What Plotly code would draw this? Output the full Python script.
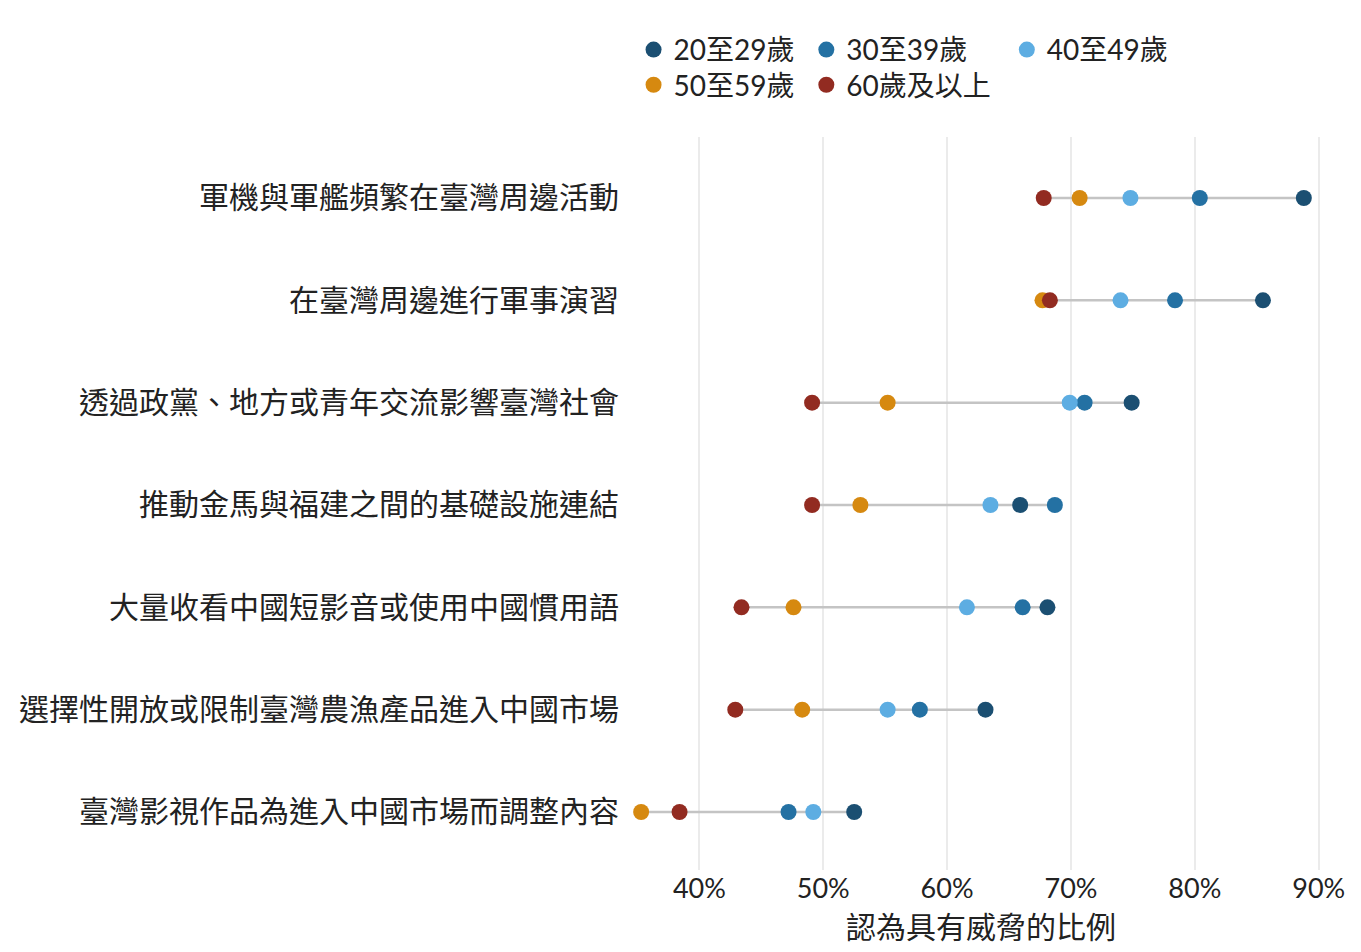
import plotly.graph_objects as go

# 各項中國行為，依年齡層認為具有威脅的比例 (%)
items = [
    "軍機與軍艦頻繁在臺灣周邊活動",
    "在臺灣周邊進行軍事演習",
    "透過政黨、地方或青年交流影響臺灣社會",
    "推動金馬與福建之間的基礎設施連結",
    "大量收看中國短影音或使用中國慣用語",
    "選擇性開放或限制臺灣農漁產品進入中國市場",
    "臺灣影視作品為進入中國市場而調整內容",
]

age_20_29 = [88.8, 85.5, 74.9, 65.9, 68.1, 63.1, 52.5]
age_30_39 = [80.4, 78.4, 71.1, 68.7, 66.1, 57.8, 47.2]
age_40_49 = [74.8, 74.0, 69.9, 63.5, 61.6, 55.2, 49.2]
age_50_59 = [70.7, 67.7, 55.2, 53.0, 47.6, 48.3, 35.3]
age_60_up = [67.8, 68.3, 49.1, 49.1, 43.4, 42.9, 38.4]

x_ticks = [40, 50, 60, 70, 80, 90]

# name, values, colour
groups = [
    ("20至29歲", age_20_29, "#1B4F72"),
    ("30至39歲", age_30_39, "#2471A3"),
    ("40至49歲", age_40_49, "#5DADE2"),
    ("50至59歲", age_50_59, "#D68910"),
    ("60歲及以上", age_60_up, "#922B21"),
]

# each legend entry gets its own little legend box (column x, row y)
legend_spots = [(0.005, 1.153), (0.248, 1.153), (0.530, 1.153),
                (0.005, 1.105), (0.248, 1.105)]

cjk = "Noto Sans CJK TC"
num_font = "Lato, Noto Sans CJK TC"
txt = "#222222"

fig = go.Figure()

# gray range line for each item
seg_x, seg_y = [], []
for i, item in enumerate(items):
    vals = [g[1][i] for g in groups]
    seg_x += [min(vals), max(vals), None]
    seg_y += [item, item, None]
fig.add_trace(go.Scatter(
    x=seg_x, y=seg_y, mode="lines",
    line=dict(color="#c4c4c4", width=2.5),
    showlegend=False, hoverinfo="skip",
))

legends = {}
for k, (name, vals, color) in enumerate(groups):
    lg = "legend" if k == 0 else f"legend{k + 1}"
    fig.add_trace(go.Scatter(
        x=vals, y=items, mode="markers", name=name, legend=lg,
        marker=dict(color=color, size=16),
    ))
    lx, ly = legend_spots[k]
    legends[lg] = dict(
        orientation="v", x=lx, y=ly, xanchor="left", yanchor="top",
        font=dict(family=num_font, size=28, color=txt),
        itemwidth=30, bgcolor="rgba(0,0,0,0)",
    )

fig.update_layout(
    width=1361, height=952,
    plot_bgcolor="white", paper_bgcolor="white",
    margin=dict(l=622, r=28, t=129, b=90),
    font=dict(family=num_font, size=26, color=txt),
    showlegend=True,
    **legends,
)

fig.update_xaxes(
    range=[34.4, 91.8],
    tickvals=x_ticks,
    ticktext=[f"{v}%" for v in x_ticks],
    showgrid=True, gridcolor="#ebebeb", gridwidth=1.5,
    zeroline=False, showline=False, ticks="",
    tickfont=dict(family=num_font, size=27, color=txt),
    automargin=False,
)
fig.update_yaxes(
    type="category",
    categoryorder="array", categoryarray=items,
    range=[6.567, -0.596],
    showgrid=False, zeroline=False, showline=False, ticks="",
    tickfont=dict(family=cjk, size=30, color=txt),
    ticklabelstandoff=10,
    automargin=False,
)

# x axis title
fig.add_annotation(
    text="認為具有威脅的比例", xref="paper", yref="paper",
    x=0.493, y=-0.0745, xanchor="center", yanchor="middle", showarrow=False,
    font=dict(family=cjk, size=30, color=txt),
)

fig.write_html("out.html")
